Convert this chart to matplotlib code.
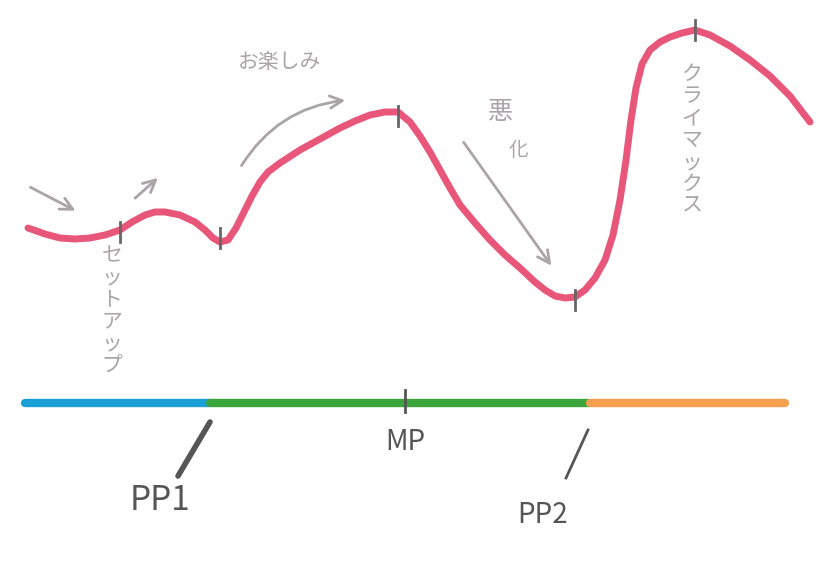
import matplotlib.pyplot as plt

plt.rcParams['font.family'] = ['Noto Sans CJK JP', 'DejaVu Sans']

# story tension curve (x px, y px from top)
curve_x = [28, 45, 60, 75, 90, 105, 120, 132, 145, 155, 165, 180, 195, 205,
           213, 220, 228, 236, 244, 252, 260, 268, 280, 300, 320, 340, 355,
           370, 385, 398, 410, 420, 430, 440, 450, 460, 475, 490, 505, 520,
           535, 545, 555, 565, 575, 585, 595, 605, 613, 620, 626, 631, 636,
           642, 650, 660, 670, 682, 695, 710, 730, 750, 770, 790, 810]
curve_y = [228, 234, 238, 239, 238, 235, 230, 222, 215, 212, 212, 215, 222,
           230, 238, 242, 240, 228, 212, 196, 182, 172, 163, 150, 139, 128,
           121, 115, 112, 112, 122, 136, 152, 170, 188, 205, 223, 240, 255,
           268, 282, 290, 296, 298, 297, 290, 278, 260, 235, 200, 160, 120,
           88, 64, 50, 42, 37, 33, 30, 35, 46, 60, 76, 96, 122]
tick_x = [120, 220, 398, 575, 695]
tick_y = [232, 238, 116, 300, 30]

# timeline segments
seg_start = [25, 210, 590]
seg_end = [210, 590, 785]
seg_colors = ['#1a9fd6', '#3ba53b', '#f5a04f']
line_y = 403

fig = plt.figure(figsize=(8.2, 5.67), dpi=100)
ax = fig.add_axes([0, 0, 1, 1])
ax.set_xlim(0, 820)
ax.set_ylim(567, 0)
ax.axis('off')

ax.plot(curve_x, curve_y, color='#e8577a', lw=5, solid_capstyle='round',
        solid_joinstyle='round', zorder=3)
for x, y in zip(tick_x, tick_y):
    ax.plot([x, x], [y - 10, y + 10], color='#666666', lw=2, zorder=4)

for s, e, c in zip(seg_start, seg_end, seg_colors):
    ax.plot([s, e], [line_y, line_y], color=c, lw=6, solid_capstyle='round')
ax.plot([405, 405], [390, 412], color='#555555', lw=2)
ax.plot([210, 178], [422, 476], color='#555555', lw=4, solid_capstyle='round')
ax.plot([588, 566], [430, 478], color='#555555', lw=2)

gray = '#555555'
ax.text(160, 500, 'PP1', fontsize=24, color=gray, ha='center', va='center')
ax.text(405, 442, 'MP', fontsize=20, color=gray, ha='center', va='center')
ax.text(543, 515, 'PP2', fontsize=20, color=gray, ha='center', va='center')

lg = '#aaa4a8'
arrow = dict(arrowstyle='->', color=lg, lw=2, mutation_scale=22)
ax.annotate('', xy=(78, 212), xytext=(28, 186), arrowprops=arrow)
ax.annotate('', xy=(160, 176), xytext=(133, 200), arrowprops=arrow)
ax.annotate('', xy=(348, 100), xytext=(240, 168),
            arrowprops=dict(arrowstyle='->', color=lg, lw=2, mutation_scale=22,
                            connectionstyle='arc3,rad=-0.25'))
ax.annotate('', xy=(553, 268), xytext=(462, 140), arrowprops=arrow)

ax.text(280, 62, 'お楽しみ', fontsize=15, color=lg, ha='center', va='center')
ax.text(500, 112, '悪', fontsize=18, color=lg, ha='center', va='center')
ax.text(518, 150, '化', fontsize=14, color=lg, ha='center', va='center')
ax.text(112, 310, '\n'.join('セットアップ'), fontsize=15, color=lg,
        ha='center', va='center', linespacing=1.0)
ax.text(692, 140, '\n'.join('クライマックス'), fontsize=15, color=lg,
        ha='center', va='center', linespacing=1.0)

fig.savefig('out.png', dpi=100, facecolor='white')
